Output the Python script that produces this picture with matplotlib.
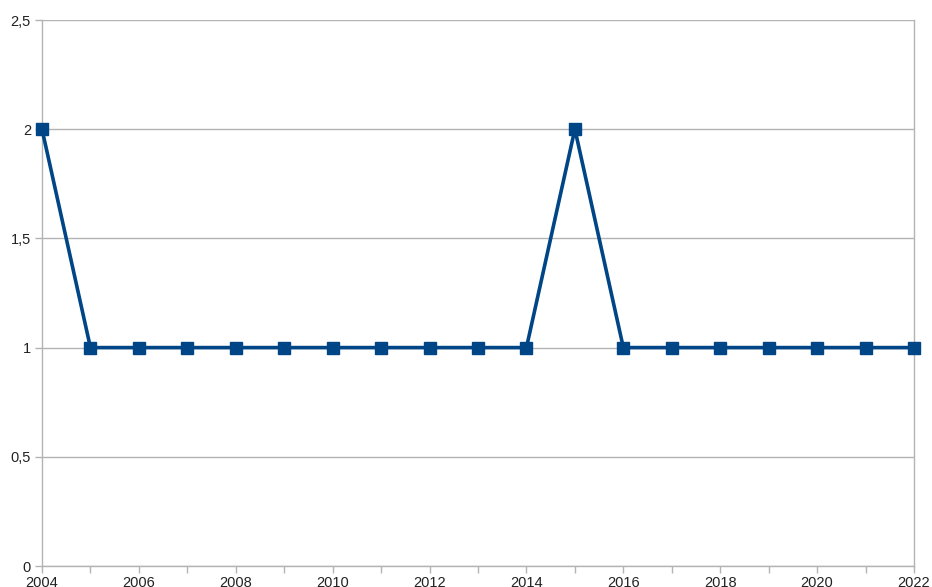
import matplotlib
matplotlib.use('Agg')
import matplotlib.pyplot as plt
from matplotlib.ticker import FuncFormatter

years = list(range(2004, 2023))
values = [2, 1, 1, 1, 1, 1, 1, 1, 1, 1, 1, 2, 1, 1, 1, 1, 1, 1, 1]
y_ticks = [0, 0.5, 1, 1.5, 2, 2.5]

plt.rcParams['font.family'] = ['Liberation Sans', 'DejaVu Sans']
GRID = '#b3b3b3'
LINE = '#004586'

fig = plt.figure(figsize=(9.32, 5.87), dpi=100)
ax = fig.add_axes([42 / 932, 1 - 566 / 587, (914 - 42) / 932, (566 - 20) / 587])

ax.plot(years, values, '-', color=LINE, lw=2.6, marker='s', ms=8.5,
        markerfacecolor=LINE, markeredgecolor=LINE, clip_on=False, zorder=3)

ax.set_xlim(years[0], years[-1])
ax.set_ylim(0, 2.5)
ax.set_yticks(y_ticks)
ax.yaxis.set_major_formatter(FuncFormatter(lambda v, p: f'{v:g}'.replace('.', ',')))
ax.set_xticks(years)
ax.set_xticklabels([str(y) if (y - years[0]) % 2 == 0 else '' for y in years])
ax.grid(axis='y', color=GRID, lw=1.0)
ax.set_axisbelow(True)

for s in ('left', 'bottom', 'right'):
    ax.spines[s].set_color(GRID)
    ax.spines[s].set_linewidth(1.0)
ax.spines['top'].set_visible(False)
ax.tick_params(axis='both', colors=GRID, labelcolor='#222222', labelsize=10.5,
               length=5, width=1.0)
ax.tick_params(axis='y', pad=3)
ax.tick_params(axis='x', pad=2)

fig.savefig('out.png', dpi=100)
